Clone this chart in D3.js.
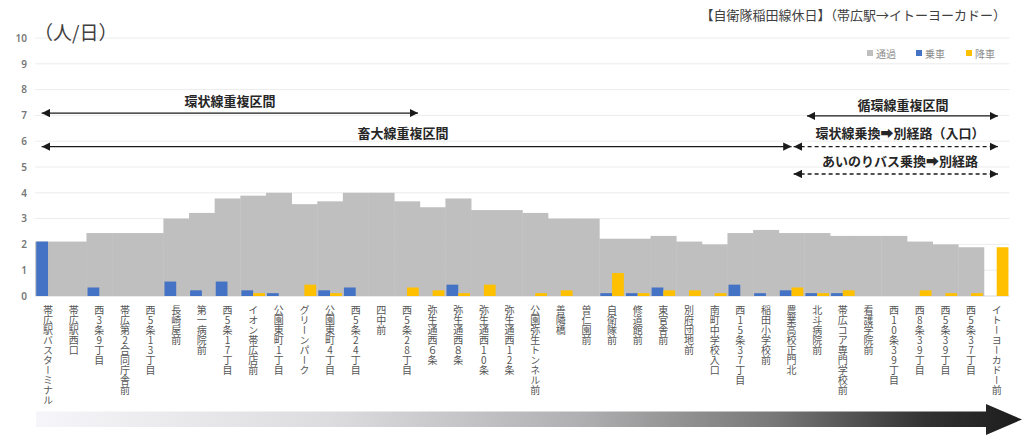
<!DOCTYPE html>
<html><head><meta charset="utf-8">
<script src="https://cdn.jsdelivr.net/npm/d3@7"></script>
<style>
html,body{margin:0;padding:0;background:#fff;}
svg{display:block;font-family:"Noto Sans CJK JP","Noto Sans",sans-serif;}
.xl{writing-mode:vertical-rl;text-orientation:upright;}
</style></head>
<body><svg id="c" width="1034" height="436"></svg>
<script>
const categories = ["帯広駅バスターミナル","帯広駅西口","西3条9丁目","帯広第2合同庁舎前","西5条13丁目","長崎屋前","第一病院前","西5条17丁目","イオン帯広店前","公園東町1丁目","グリーンパーク","公園東町4丁目","西5条24丁目","四中前","西5条28丁目","弥生通西６条","弥生通西８条","弥生通西10条","弥生通西12条","公園弥生トンネル前","善隣橋","曽仁園前","自衛隊前","修道館前","東官舎前","別府団地前","南町中学校入口","西15条37丁目","稲田小学校前","農業高校正門北","北斗病院前","帯広コア専門学校前","看護学院前","西10条39丁目","西8条39丁目","西5条39丁目","西5条37丁目","イトーヨーカドー前"];
const passing   = [2.11,2.11,2.44,2.44,2.44,3.00,3.22,3.78,3.89,4.00,3.56,3.67,4.00,4.00,3.67,3.44,3.78,3.33,3.33,3.22,3.00,3.00,2.22,2.22,2.33,2.11,2.00,2.44,2.56,2.44,2.44,2.33,2.33,2.33,2.11,2.00,1.89,0];
const boarding  = [2.11,0,0.33,0,0,0.56,0.22,0.56,0.22,0.11,0,0.22,0.33,0,0,0,0.44,0,0,0,0,0,0.11,0.11,0.33,0,0,0.44,0.11,0.22,0.11,0.11,0,0,0,0,0,0];
const alighting = [0,0,0,0,0,0,0,0,0.11,0,0.44,0.11,0,0,0.33,0.22,0.11,0.44,0,0.11,0.22,0,0.89,0.11,0.22,0.22,0.11,0,0,0.33,0.11,0.22,0,0,0.22,0.11,0.11,1.89];
const yTicks = [0,1,2,3,4,5,6,7,8,9,10];
const seriesNames = ["通過","乗車","降車"];
const seriesColors = ["#bfbfbf","#4472c4","#ffc000"];
const title = "【自衛隊稲田線休日】（帯広駅→イトーヨーカドー）";
const unitLabel = "（人/日）";
// annotation arrows: positions in band-index units and data-value units
const annotations = [
  {text:"環状線重複区間", from:0.25, to:14.93, y:7.09, ty:7.56, tx:7.6, dashed:false},
  {text:"畜大線重複区間", from:0.25, to:29.5, y:5.79, ty:6.32, tx:14.35, dashed:false},
  {text:"循環線重複区間", from:30.1, to:37.55, y:6.98, ty:7.44, tx:33.85, dashed:false},
  {text:"環状線乗換➡別経路（入口）", from:29.58, to:37.55, y:5.79, ty:6.32, tx:33.73, dashed:true},
  {text:"あいのりバス乗換➡別経路", from:29.58, to:37.55, y:4.73, ty:5.27, tx:33.73, dashed:true}
];

const svg = d3.select("#c");
const x = d3.scaleBand().domain(categories).range([35.2,1009.5]).padding(0);
const y = d3.scaleLinear().domain([0,10]).range([296,38]);
const x1 = d3.scaleBand().domain(["乗車","降車"]).range([0,x.bandwidth()]).paddingInner(0).paddingOuter(0.09);
const bi = i => x.range()[0] + i*x.step();

// defs
const defs = svg.append("defs");
const grad = defs.append("linearGradient").attr("id","g1").attr("x1","0").attr("x2","1").attr("y1","0").attr("y2","0");
[["0","#f6f6fa"],["0.3","#dcdcde"],["0.55","#b0b0b2"],["0.75","#777"],["0.9","#333"],["1","#1c1c1c"]].forEach(s=>grad.append("stop").attr("offset",s[0]).attr("stop-color",s[1]));
function mk(id){
  const m = defs.append("marker").attr("id",id).attr("viewBox","0 0 10 10").attr("refX",10).attr("refY",5)
    .attr("markerWidth",6).attr("markerHeight",6).attr("markerUnits","strokeWidth").attr("orient","auto-start-reverse");
  m.append("path").attr("d","M0,0L10,5L0,10Z").attr("fill","#1a1a1a");
}
mk("ah");

// grid
svg.append("g").selectAll("line").data(yTicks).join("line")
  .attr("x1",x.range()[0]).attr("x2",x.range()[1]).attr("y1",d=>y(d)).attr("y2",d=>y(d))
  .attr("stroke",d=>d===0?"#d9d9d9":"#ececec").attr("stroke-width",1);

// y axis labels
const ya = svg.append("g").attr("transform","translate(27,0)").call(d3.axisLeft(y).tickValues(yTicks).tickSize(0).tickPadding(0));
ya.select(".domain").remove();
ya.selectAll("text").attr("fill","#777").attr("font-size",10).attr("font-weight",600).attr("font-family","'Noto Sans',sans-serif");

// bars
svg.append("g").selectAll("rect").data(categories).join("rect")
  .attr("x",d=>x(d)).attr("width",x.bandwidth()+0.4)
  .attr("y",(d,i)=>y(passing[i])).attr("height",(d,i)=>y(0)-y(passing[i]))
  .attr("fill",seriesColors[0]);
svg.append("g").selectAll("rect").data(categories).join("rect")
  .attr("x",d=>x(d)+x1("乗車")).attr("width",x1.bandwidth())
  .attr("y",(d,i)=>y(boarding[i])).attr("height",(d,i)=>y(0)-y(boarding[i]))
  .attr("fill",seriesColors[1]);
svg.append("g").selectAll("rect").data(categories).join("rect")
  .attr("x",d=>x(d)+x1("降車")).attr("width",x1.bandwidth())
  .attr("y",(d,i)=>y(alighting[i])).attr("height",(d,i)=>y(0)-y(alighting[i]))
  .attr("fill",seriesColors[2]);

// x labels (vertical)
const xa = svg.append("g").attr("transform",`translate(0,${y(0)})`).call(d3.axisBottom(x).tickSize(0).tickPadding(0));
xa.select(".domain").remove();
xa.selectAll("text").attr("class","xl").attr("y",9).attr("dy",0)
  .attr("text-anchor","start").attr("fill","#555").attr("font-size",10)
  .attr("font-family","'Noto Sans CJK JP',sans-serif");

// title & unit
svg.append("text").attr("x",1006).attr("y",20).attr("text-anchor","end").attr("font-size",13).attr("fill","#404040").text(title);
svg.append("text").attr("x",34).attr("y",40).attr("font-size",19).attr("fill","#404040").text(unitLabel);

// legend
const lg = svg.append("g");
const lx = [867,916,966];
seriesNames.forEach((n,i)=>{
  lg.append("rect").attr("x",lx[i]).attr("y",50).attr("width",6).attr("height",6).attr("fill",seriesColors[i]);
  lg.append("text").attr("x",lx[i]+9).attr("y",53).attr("dominant-baseline","central").attr("font-size",10).attr("fill","#8c8c8c").text(n);
});

// annotations
const an = svg.append("g");
annotations.forEach(a=>{
  an.append("line").attr("x1",bi(a.from)).attr("x2",bi(a.to)).attr("y1",y(a.y)).attr("y2",y(a.y))
    .attr("stroke","#1a1a1a").attr("stroke-width",1.4)
    .attr("stroke-dasharray",a.dashed?"4,3":null)
    .attr("marker-start","url(#ah)").attr("marker-end","url(#ah)");
  an.append("text").attr("x",bi(a.tx)).attr("y",y(a.ty)).attr("text-anchor","middle").attr("dominant-baseline","central")
    .attr("font-size",13).attr("font-weight",700).attr("fill","#262626").text(a.text);
});

// bottom gradient arrow
svg.append("path").attr("d","M36,411.5 L986,411.5 L986,404 L1022,419.5 L986,435 L986,427 L36,427 Z").attr("fill","url(#g1)");
</script></body></html>
